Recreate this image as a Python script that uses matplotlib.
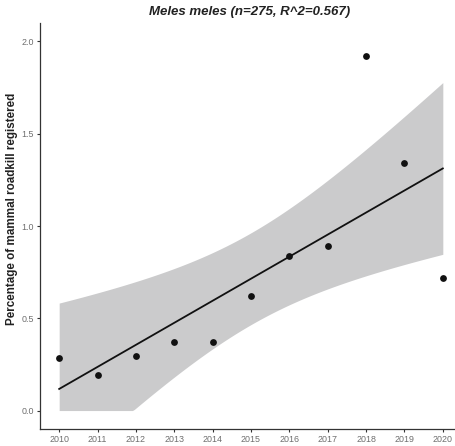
import numpy as np
import matplotlib
matplotlib.use("Agg")
import matplotlib.pyplot as plt

years = [2010, 2011, 2012, 2013, 2014, 2015, 2016, 2017, 2018, 2019, 2020]
pct = [0.287, 0.19, 0.298, 0.374, 0.374, 0.623, 0.84, 0.889, 1.92, 1.344, 0.72]
yticks = [0.0, 0.5, 1.0, 1.5, 2.0]
title = "Meles meles (n=275, R^2=0.567)"
ylabel = "Percentage of mammal roadkill registered"

x = np.array(years, dtype=float)
y = np.array(pct)
n = len(x)
b1, b0 = np.polyfit(x, y, 1)
resid = y - (b0 + b1 * x)
s = np.sqrt(np.sum(resid**2) / (n - 2))
xs = np.linspace(x.min(), x.max(), 200)
pred = b0 + b1 * xs
se = s * np.sqrt(1 / n + (xs - x.mean())**2 / np.sum((x - x.mean())**2))
tval = 2.262157
lo = np.maximum(pred - tval * se, 0)
hi = pred + tval * se

plt.rcParams['font.family'] = ['Liberation Sans', 'DejaVu Sans']
fig = plt.figure(figsize=(4.55, 4.46), dpi=100)
ax = fig.add_axes([40/455, 17/446, 422/455, 406/446])
ax.fill_between(xs, lo, hi, color='#CBCBCC', linewidth=0, zorder=1)
ax.plot(xs, pred, color='#111111', lw=1.3, zorder=2)
ax.scatter(x, y, s=24, color='#111111', zorder=3, linewidths=0)

ax.set_xlim(2009.5, 2020.5)
ax.set_ylim(-0.1, 2.1)
ax.set_xticks(years)
ax.set_xticklabels([str(v) for v in years])
ax.set_yticks(yticks)
ax.set_yticklabels([f"{v:.1f}" for v in yticks])
for sp in ['top', 'right']:
    ax.spines[sp].set_visible(False)
for sp in ['left', 'bottom']:
    ax.spines[sp].set_color('#333333')
    ax.spines[sp].set_linewidth(0.9)
ax.tick_params(axis='both', colors='#333333', labelcolor='#6E6E6E', labelsize=6.4,
               length=2.5, width=0.8, pad=2)
ax.set_ylabel(ylabel, fontsize=8.4, fontweight='bold', color='#222222')
ax.yaxis.set_label_coords(-0.052, 0.543)
fig.text(250/455, 1 - 12/446, title, ha='center', va='center', fontsize=9.5,
         fontweight='bold', fontstyle='italic', color='#222222')
fig.savefig("out.png", dpi=100)
